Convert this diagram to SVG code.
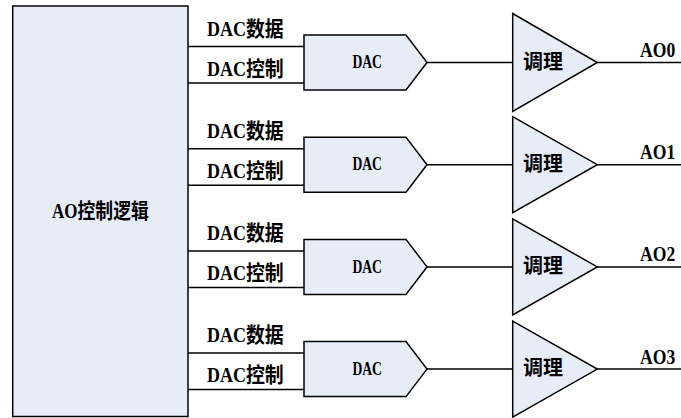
<svg xmlns="http://www.w3.org/2000/svg" width="681" height="418" viewBox="0 0 681 418">
<style>
.shape{fill:#E7EDF7;stroke:#000;stroke-width:1.5}
.wire{fill:none;stroke:#000;stroke-width:1.5}
.t{font-family:"Liberation Serif","Noto Sans CJK SC",serif;font-weight:bold;fill:#000}
.lat{font-size:20px}
.cjk{font-size:21px}
.dac{font-size:19.5px;text-anchor:middle}
.cond{font-size:20px;text-anchor:middle}
.out{font-size:22px}
</style>
<rect width="681" height="418" fill="#fff"/>
<g id="ao-logic">
<rect class="shape" x="12.7" y="6" width="175.3" height="410.5"/>
<text class="t" transform="translate(52 218.3) scale(0.85 1)"><tspan class="lat">AO</tspan><tspan class="cjk">控制逻辑</tspan></text>
</g>
<g id="connectors">
<path class="wire" d="M188 46.5H304M188 83H304M427 62.5H512.7M597.3 62.5H681"/>
<path class="wire" d="M188 148.7H304M188 185.2H304M427 164.7H512.7M597.3 164.7H681"/>
<path class="wire" d="M188 250.9H304M188 287.4H304M427 266.9H512.7M597.3 266.9H681"/>
<path class="wire" d="M188 353.1H304M188 389.6H304M427 369.1H512.7M597.3 369.1H681"/>
</g>
<g id="labels">
<text class="t" transform="translate(207 35.5) scale(0.9 1)"><tspan class="lat">DAC</tspan><tspan class="cjk">数据</tspan></text>
<text class="t" transform="translate(207 75.5) scale(0.9 1)"><tspan class="lat">DAC</tspan><tspan class="cjk">控制</tspan></text>
<text class="t" transform="translate(207 137.7) scale(0.9 1)"><tspan class="lat">DAC</tspan><tspan class="cjk">数据</tspan></text>
<text class="t" transform="translate(207 177.7) scale(0.9 1)"><tspan class="lat">DAC</tspan><tspan class="cjk">控制</tspan></text>
<text class="t" transform="translate(207 239.9) scale(0.9 1)"><tspan class="lat">DAC</tspan><tspan class="cjk">数据</tspan></text>
<text class="t" transform="translate(207 279.9) scale(0.9 1)"><tspan class="lat">DAC</tspan><tspan class="cjk">控制</tspan></text>
<text class="t" transform="translate(207 342.1) scale(0.9 1)"><tspan class="lat">DAC</tspan><tspan class="cjk">数据</tspan></text>
<text class="t" transform="translate(207 382.1) scale(0.9 1)"><tspan class="lat">DAC</tspan><tspan class="cjk">控制</tspan></text>
<text class="t out" transform="translate(640 57) scale(0.8 1)">AO0</text>
<text class="t out" transform="translate(640 159.2) scale(0.8 1)">AO1</text>
<text class="t out" transform="translate(640 261.4) scale(0.8 1)">AO2</text>
<text class="t out" transform="translate(640 363.6) scale(0.8 1)">AO3</text>
</g>
<g id="dac0"><path class="shape" d="M304 35H406L427 62.5L406 90H304Z"/><text class="t dac" transform="translate(367.2 68.2) scale(0.7 1)">DAC</text></g>
<g id="dac1"><path class="shape" d="M304 137.2H406L427 164.7L406 192.2H304Z"/><text class="t dac" transform="translate(367.2 170.4) scale(0.7 1)">DAC</text></g>
<g id="dac2"><path class="shape" d="M304 239.4H406L427 266.9L406 294.4H304Z"/><text class="t dac" transform="translate(367.2 272.6) scale(0.7 1)">DAC</text></g>
<g id="dac3"><path class="shape" d="M304 341.6H406L427 369.1L406 396.6H304Z"/><text class="t dac" transform="translate(367.2 374.8) scale(0.7 1)">DAC</text></g>
<g id="cond0"><path class="shape" d="M512.7 13.5L597.3 62.5L512.7 111.5Z"/><text class="t cond" x="543" y="68.5">调理</text></g>
<g id="cond1"><path class="shape" d="M512.7 116.7L597.3 164.7L512.7 212.7Z"/><text class="t cond" x="543" y="170.7">调理</text></g>
<g id="cond2"><path class="shape" d="M512.7 218.9L597.3 266.9L512.7 314.9Z"/><text class="t cond" x="543" y="272.9">调理</text></g>
<g id="cond3"><path class="shape" d="M512.7 321.1L597.3 369.1L512.7 417.1Z"/><text class="t cond" x="543" y="375.1">调理</text></g>
</svg>
